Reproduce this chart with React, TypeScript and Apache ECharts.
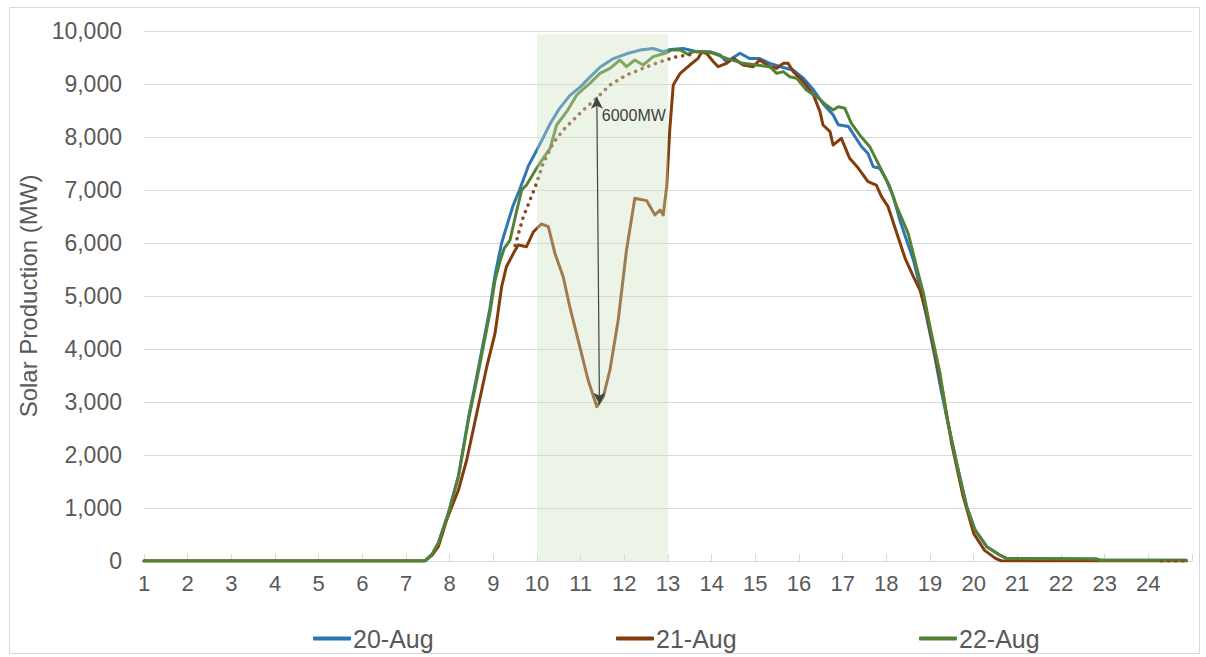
import React, { useEffect, useRef } from "react";
import * as echarts from "echarts";

// ---- data (hour of day, MW) ----
const xTicks = [1, 2, 3, 4, 5, 6, 7, 8, 9, 10, 11, 12, 13, 14, 15, 16, 17, 18, 19, 20, 21, 22, 23, 24];

const hours20 = [1, 7.43, 7.6, 7.74, 7.97, 8.2, 8.43, 8.62, 8.77, 8.92, 9.04, 9.19, 9.3, 9.45, 9.6, 9.8, 10.0, 10.15, 10.3, 10.5, 10.75, 11.0, 11.2, 11.45, 11.75, 12.05, 12.36, 12.66, 12.89, 13.05, 13.35, 13.66, 13.96, 14.19, 14.34, 14.65, 14.87, 15.1, 15.33, 15.56, 15.87, 16.1, 16.33, 16.56, 16.78, 16.9, 17.13, 17.28, 17.43, 17.58, 17.7, 17.85, 18.0, 18.16, 18.31, 18.46, 18.62, 18.77, 18.92, 19.08, 19.27, 19.4, 19.61, 19.84, 20.03, 20.3, 20.6, 20.75, 22.8, 22.9, 24.87];
const mw20 = [0, 0, 130, 340, 900, 1600, 2700, 3480, 4120, 4760, 5400, 6000, 6300, 6700, 7000, 7450, 7760, 8000, 8250, 8520, 8780, 8950, 9120, 9320, 9480, 9570, 9640, 9670, 9610, 9650, 9670, 9610, 9610, 9550, 9420, 9580, 9480, 9480, 9390, 9330, 9260, 9110, 8890, 8620, 8420, 8230, 8200, 8010, 7820, 7690, 7440, 7410, 7190, 6870, 6430, 6060, 5680, 5180, 4610, 3980, 3160, 2650, 1850, 1030, 590, 270, 110, 50, 40, 15, 15];

const hours21 = [1, 7.43, 7.6, 7.74, 7.93, 8.2, 8.39, 8.62, 8.85, 9.04, 9.19, 9.3, 9.46, 9.57, 9.76, 9.92, 10.1, 10.26, 10.41, 10.6, 10.75, 10.98, 11.17, 11.37, 11.52, 11.67, 11.86, 12.05, 12.24, 12.51, 12.7, 12.82, 12.89, 12.97, 13.04, 13.12, 13.28, 13.5, 13.69, 13.77, 13.88, 14.04, 14.15, 14.34, 14.5, 14.72, 14.95, 15.1, 15.33, 15.49, 15.64, 15.75, 15.87, 16.1, 16.33, 16.48, 16.55, 16.71, 16.78, 16.97, 17.16, 17.36, 17.58, 17.77, 17.89, 18.04, 18.24, 18.43, 18.62, 18.77, 18.92, 19.11, 19.3, 19.5, 19.75, 20.0, 20.25, 20.5, 20.64, 24.87];
const mw21 = [0, 0, 110, 270, 773, 1340, 1906, 2787, 3666, 4300, 5175, 5553, 5805, 5962, 5930, 6213, 6358, 6308, 5805, 5364, 4798, 4043, 3415, 2911, 3100, 3604, 4547, 5868, 6843, 6800, 6528, 6623, 6528, 7062, 8132, 8981, 9201, 9358, 9484, 9600, 9579, 9421, 9327, 9390, 9484, 9358, 9327, 9453, 9327, 9296, 9390, 9390, 9233, 9044, 8792, 8478, 8226, 8100, 7849, 7975, 7598, 7409, 7157, 7094, 6874, 6685, 6183, 5711, 5364, 5113, 4673, 3919, 3164, 2200, 1250, 520, 200, 50, 0, 0];

const hours22 = [1, 7.43, 7.6, 7.74, 7.97, 8.2, 8.43, 8.62, 8.77, 8.92, 9.04, 9.15, 9.25, 9.38, 9.53, 9.65, 9.76, 9.99, 10.14, 10.3, 10.45, 10.68, 10.91, 11.05, 11.21, 11.44, 11.67, 11.9, 12.05, 12.24, 12.43, 12.66, 12.93, 13.08, 13.28, 13.45, 13.58, 13.85, 14.04, 14.34, 14.72, 15.03, 15.33, 15.49, 15.64, 15.79, 15.95, 16.17, 16.4, 16.6, 16.78, 16.9, 17.05, 17.2, 17.39, 17.62, 17.85, 18.08, 18.24, 18.5, 18.69, 18.85, 19.0, 19.23, 19.38, 19.61, 19.84, 20.03, 20.3, 20.6, 20.75, 22.8, 22.9, 24.87];
const mw22 = [0, 0, 130, 334, 900, 1590, 2660, 3415, 4043, 4673, 5300, 5650, 5900, 6050, 6590, 7000, 7094, 7409, 7598, 7786, 8226, 8478, 8792, 8900, 9013, 9201, 9296, 9453, 9327, 9453, 9358, 9516, 9579, 9642, 9642, 9560, 9610, 9610, 9579, 9484, 9390, 9358, 9327, 9201, 9233, 9138, 9107, 8887, 8761, 8620, 8509, 8572, 8541, 8258, 8038, 7817, 7440, 7063, 6685, 6183, 5553, 5050, 4421, 3541, 2723, 1843, 1024, 585, 270, 113, 50, 40, 15, 15];

// expected (clear-sky) profile for 21-Aug, dotted
const hoursExp = [9.5, 9.6, 9.69, 9.84, 9.99, 10.14, 10.37, 10.6, 10.83, 11.06, 11.36, 11.67, 12.05, 12.43, 12.82, 13.2, 13.58, 13.7, 24.3, 24.87];
const mwExp: (number | null)[] = [5950, 6250, 6500, 6810, 7126, 7503, 7880, 8132, 8321, 8509, 8730, 8981, 9170, 9296, 9421, 9516, 9560, null, 0, 0];

// eclipse window and annotation
const shadeHours = [10, 13];
const shadeTop = 9940;
const arrowFrom = [11.37, 8760];
const arrowTo = [11.43, 2950];
const arrowText = "6000MW";

const zip = (xs: number[], ys: (number | null)[]) => xs.map((x, i) => [x, ys[i]]);

const FONT = "'Liberation Sans', Arial, sans-serif";

export default function App() {
  const ref = useRef<HTMLDivElement>(null);
  useEffect(() => {
    document.body.style.margin = "0";
    if (!ref.current) return;
    const chart = echarts.init(ref.current, undefined, { renderer: "svg" });
    const lineBase = (name: string, color: string, data: any[]) => ({
      name,
      type: "line",
      data,
      showSymbol: false,
      symbol: "none",
      lineStyle: { color, width: 3, cap: "round", join: "round" },
      itemStyle: { color },
      z: 2,
    });
    chart.setOption({
      animation: false,
      textStyle: { fontFamily: FONT },
      grid: { left: 144, right: 14, top: 31, bottom: 96 },
      xAxis: {
        type: "value",
        min: 1,
        max: 25,
        interval: 1,
        axisLine: { lineStyle: { color: "#D9D9D9", width: 1 } },
        axisTick: { show: true, inside: true, length: 7, lineStyle: { color: "#D9D9D9" } },
        axisLabel: {
          color: "#595959",
          fontSize: 22,
          margin: 11,
          fontFamily: FONT,
          formatter: (v: number) => (xTicks.indexOf(v) >= 0 ? String(v) : ""),
        },
        splitLine: { show: false },
      },
      yAxis: {
        type: "value",
        min: 0,
        max: 10000,
        interval: 1000,
        name: "Solar Production (MW)",
        nameLocation: "middle",
        nameGap: 104,
        nameTextStyle: { color: "#595959", fontSize: 24, fontFamily: FONT },
        axisLine: { show: false },
        axisTick: { show: false },
        axisLabel: {
          color: "#595959",
          fontSize: 23,
          margin: 22,
          fontFamily: FONT,
          formatter: (v: number) => v.toLocaleString("en-US"),
        },
        splitLine: { lineStyle: { color: "#D9D9D9", width: 1 } },
      },
      legend: [
        { data: ["20-Aug"], left: 308, top: 621 },
        { data: ["21-Aug"], left: 611, top: 621 },
        { data: ["22-Aug"], left: 914, top: 621 },
      ].map((l) => ({
        ...l,
        icon: "roundRect",
        itemWidth: 38,
        itemHeight: 4,
        textStyle: { color: "#595959", fontSize: 25, fontFamily: FONT, padding: [0, 0, 0, -3] },
      })),
      series: [
        lineBase("20-Aug", "#2E75B6", zip(hours20, mw20)),
        lineBase("21-Aug", "#843C0C", zip(hours21, mw21)),
        lineBase("22-Aug", "#548235", zip(hours22, mw22)),
        {
          name: "expected",
          type: "line",
          data: zip(hoursExp, mwExp),
          showSymbol: false,
          symbol: "none",
          connectNulls: false,
          lineStyle: { color: "#8B4A1E", width: 3.5, type: [0.1, 7], cap: "round" },
          z: 3,
          markArea: {
            silent: true,
            z: 10,
            itemStyle: { color: "rgba(205,227,191,0.38)" },
            data: [[{ coord: [shadeHours[0], shadeTop] }, { coord: [shadeHours[1], 0] }]],
          },
          markLine: {
            silent: true,
            z: 11,
            symbol: ["arrow", "arrow"],
            symbolSize: [9, 12],
            label: { show: false },
            lineStyle: { color: "#3F463F", width: 1.2, type: "solid" },
            data: [[{ coord: arrowFrom }, { coord: arrowTo }]],
          },
        },
      ],
    });
    const p = chart.convertToPixel({ gridIndex: 0 }, [arrowFrom[0], arrowFrom[1]]) as number[];
    chart.setOption({
      graphic: [
        {
          type: "text",
          x: p[0] + 5,
          y: p[1] + 11,
          z: 20,
          style: { text: arrowText, fill: "#404040", font: `16px ${FONT}` },
        },
        {
          type: "rect",
          shape: { x: 9.5, y: 7.5, width: 1190, height: 646 },
          style: { fill: "none", stroke: "#D9D9D9", lineWidth: 1 },
          silent: true,
        },
      ],
    });
    return () => chart.dispose();
  }, []);
  return <div ref={ref} style={{ width: 1206, height: 657 }} />;
}
